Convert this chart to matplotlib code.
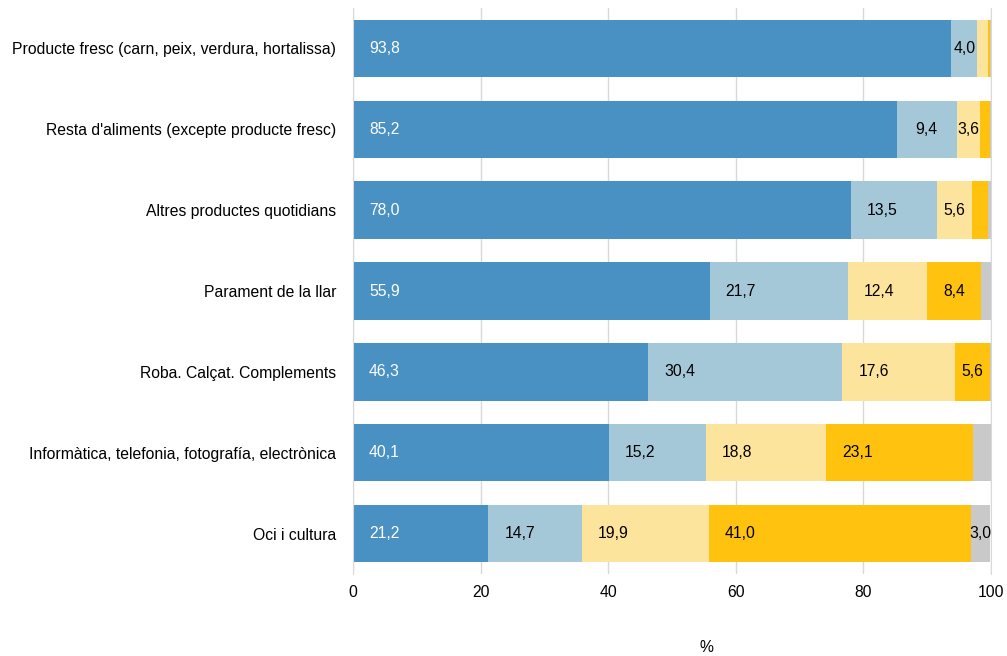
import matplotlib
matplotlib.use("Agg")
import matplotlib.pyplot as plt

plt.rcParams['font.family'] = ['Liberation Sans', 'DejaVu Sans']

categories = [
    "Producte fresc (carn, peix, verdura, hortalissa)",
    "Resta d'aliments (excepte producte fresc)",
    "Altres productes quotidians",
    "Parament de la llar",
    "Roba. Calçat. Complements",
    "Informàtica, telefonia, fotografía, electrònica",
    "Oci i cultura",
]
s1 = [93.8, 85.2, 78.0, 55.9, 46.3, 40.1, 21.2]
s2 = [4.0, 9.4, 13.5, 21.7, 30.4, 15.2, 14.7]
s3 = [1.7, 3.6, 5.6, 12.4, 17.6, 18.8, 19.9]
s4 = [0.3, 1.6, 2.5, 8.4, 5.6, 23.1, 41.0]
s5 = [0.2, 0.2, 0.4, 1.6, 0.1, 2.8, 3.0]
series = [s1, s2, s3, s4, s5]
colors = ["#4A91C3", "#A5C8D9", "#FDE49C", "#FFC20E", "#C9C9C9"]
text_colors = ["white", "black", "black", "black", "black"]
fs = 11.3

fig = plt.figure(figsize=(10.07, 6.56), dpi=100)
ax = fig.add_axes([353/1007, 1 - 574/656, (991-353)/1007, (574-8)/656])

px_per_unit = (991 - 353) / 100.0
ypos = list(range(len(categories)))
left = [0.0] * len(categories)
for vals, col, tcol in zip(series, colors, text_colors):
    ax.barh(ypos, vals, left=left, height=0.71, color=col, edgecolor='none', zorder=2)
    for i, v in enumerate(vals):
        if v >= 3.0:
            w_px = v * px_per_unit
            lab = f"{v:.1f}".replace(".", ",")
            if w_px < 70:
                ax.text(left[i] + v / 2, i, lab, ha='center', va='center',
                        color=tcol, fontsize=fs, zorder=3)
            else:
                ax.text(left[i] + 16 / px_per_unit, i, lab, ha='left', va='center',
                        color=tcol, fontsize=fs, zorder=3)
    left = [l + v for l, v in zip(left, vals)]

ax.set_xlim(0, 100)
ax.set_ylim(6.5, -0.5)
ax.set_yticks(ypos)
ax.set_yticklabels(categories, fontsize=fs)
ax.set_xticks([0, 20, 40, 60, 80, 100])
ax.tick_params(axis='both', length=0, labelsize=fs)
ax.tick_params(axis='x', pad=8)
ax.tick_params(axis='y', pad=12)
ax.grid(axis='x', color='#D9D9D9', linewidth=1, zorder=0)
for s in ['top', 'bottom']:
    ax.spines[s].set_visible(False)
for s in ['left', 'right']:
    ax.spines[s].set_color('#D9D9D9')

fig.text(706/1007, 1 - 648/656, "%", ha='center', va='center', fontsize=fs)

fig.savefig("out.png", dpi=100)
